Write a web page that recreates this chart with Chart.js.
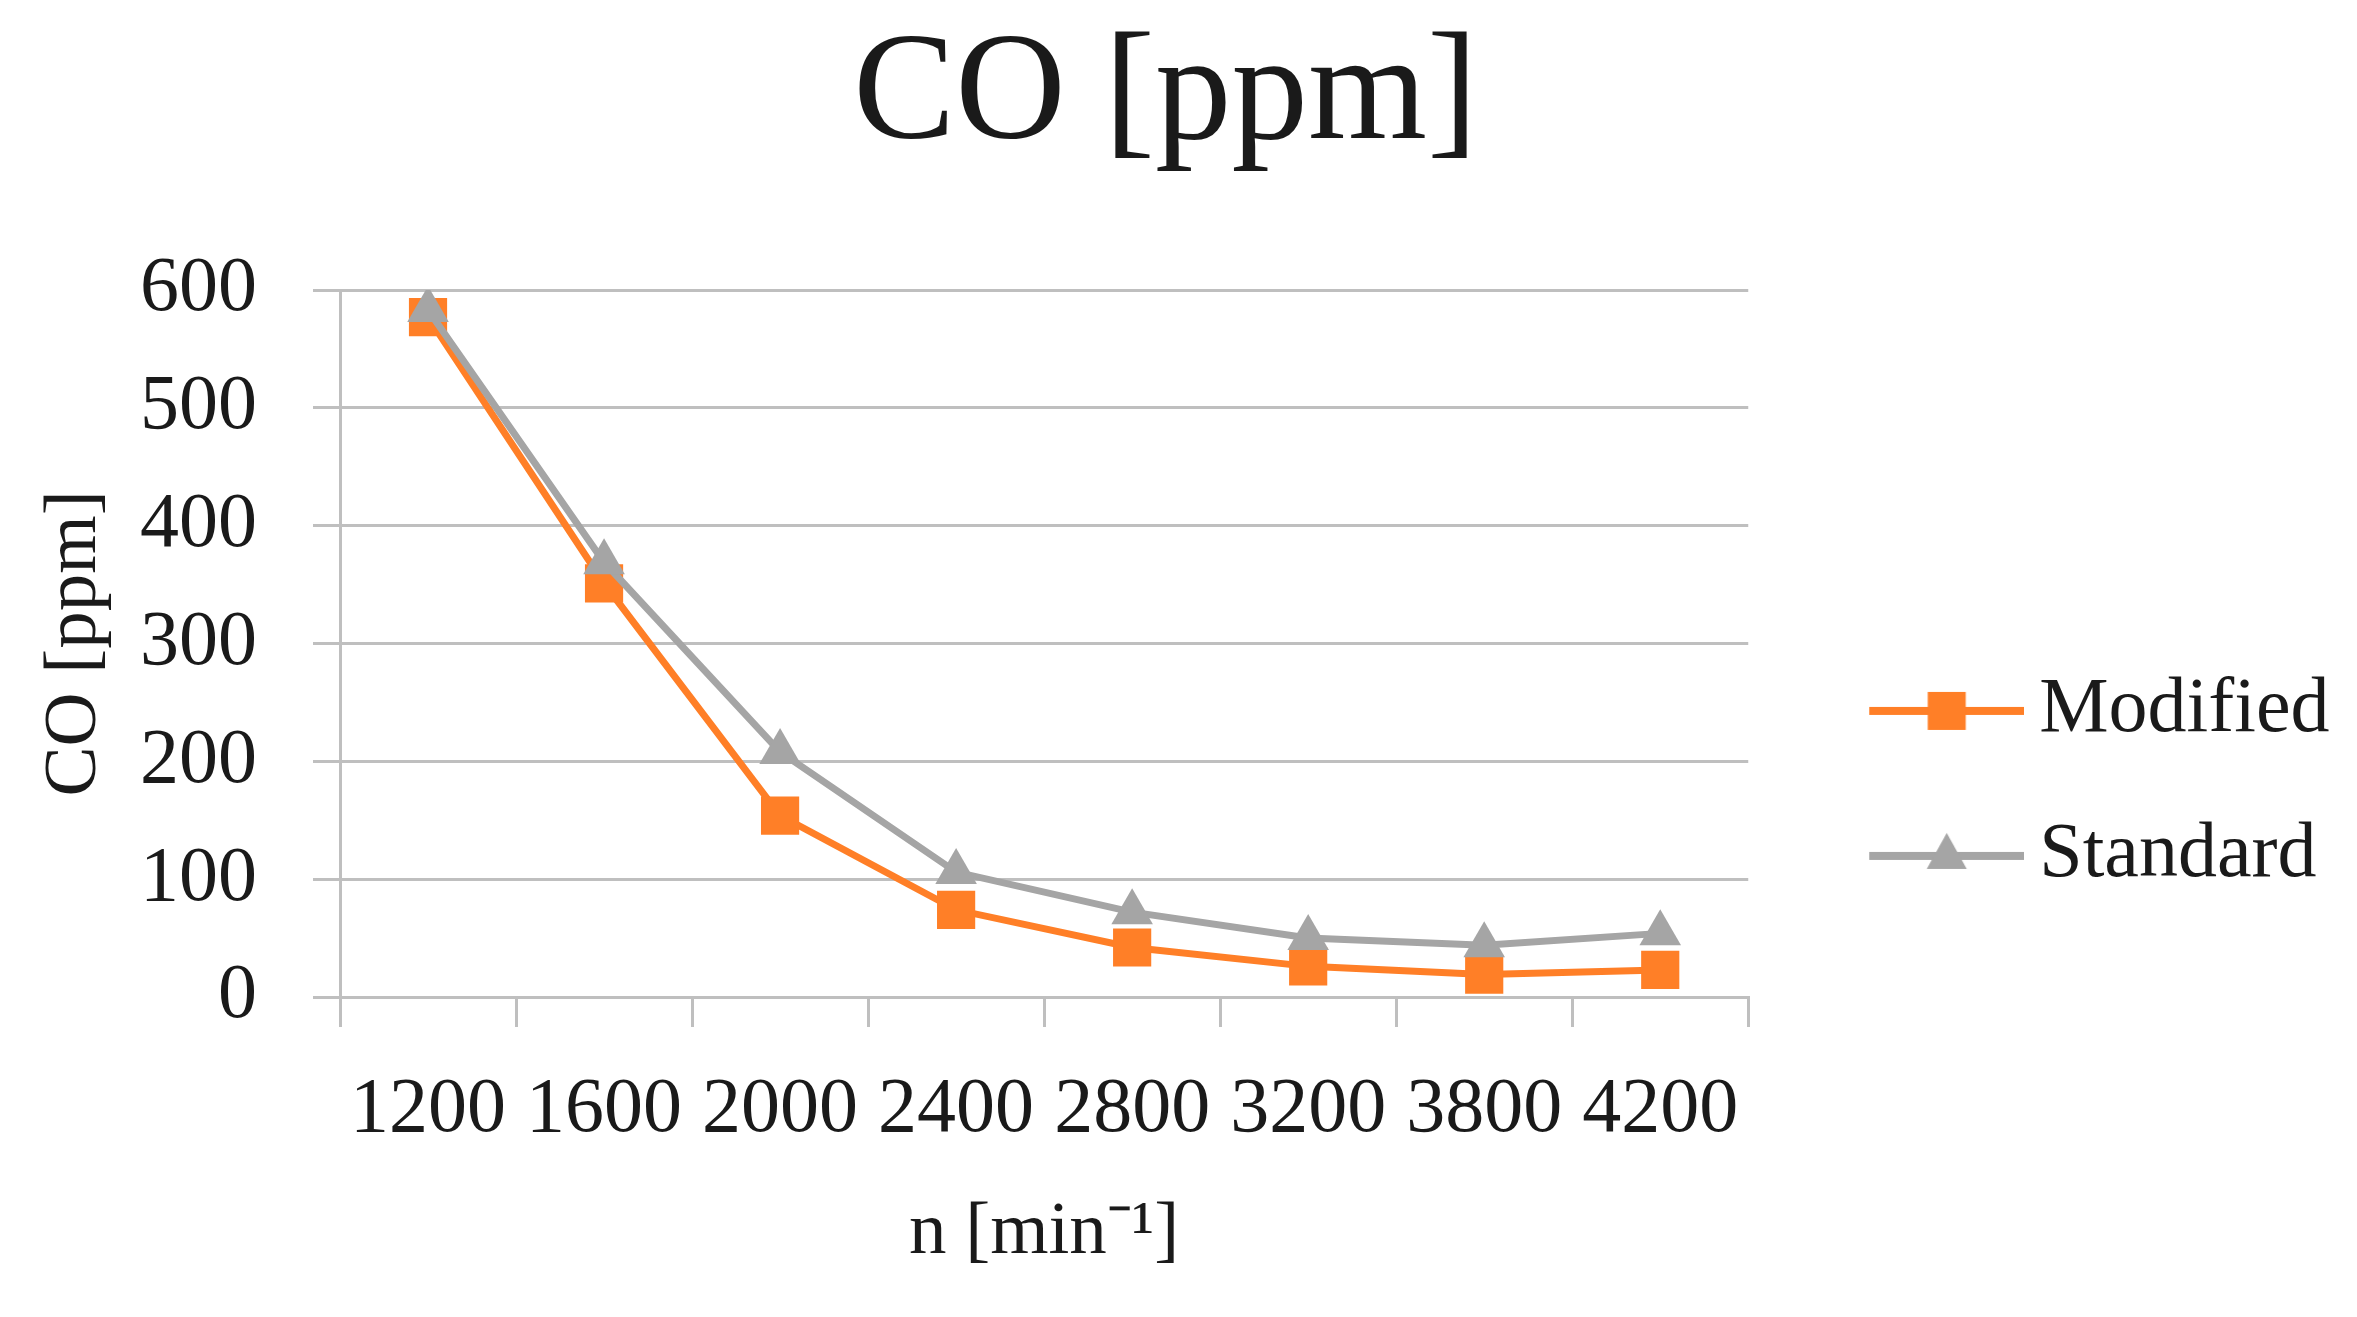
<!DOCTYPE html>
<html><head><meta charset="utf-8">
<script src="https://cdn.jsdelivr.net/npm/chart.js@4"></script>
<style>html,body{margin:0;padding:0;background:#fff}#wrap{width:2357px;height:1317px;position:relative}</style>
</head><body><div id="wrap"><canvas id="c"></canvas></div>
<script>
const categories = ['1200','1600','2000','2400','2800','3200','3800','4200'];
const modifiedValues = [577, 351, 154, 74, 42, 26, 19, 23];
const standardValues = [583, 369, 208, 106, 72, 50, 44, 54];
const seriesNames = ['Modified', 'Standard'];
const yMin = 0, yMax = 600, yStep = 100;
const chartTitle = 'CO [ppm]';
const xTitle = 'n [min\u207B\u00B9]';
const yTitle = 'CO [ppm]';

const ORANGE = '#ff7f27', GRAY = '#a5a5a5', GRID = '#bfbfbf', TEXT = '#1a1a1a';
const FONT = "'Liberation Serif', 'Times New Roman', serif";

// legend symbol: a short line with the series marker, drawn into a small canvas
function legendIcon(color, style) {
  const c = document.createElement('canvas');
  c.width = 290; c.height = 50;
  const g = c.getContext('2d');
  const cy = 25, cx = 212.5;
  g.strokeStyle = color; g.lineWidth = 8;
  g.beginPath(); g.moveTo(135, cy); g.lineTo(290, cy); g.stroke();
  g.fillStyle = color;
  if (style === 'rect') {
    g.fillRect(cx - 19, cy - 19, 38, 38);
  } else {
    g.beginPath(); g.moveTo(cx, cy - 23); g.lineTo(cx + 20, cy + 13); g.lineTo(cx - 20, cy + 13); g.closePath(); g.fill();
  }
  return c;
}
const icons = [legendIcon(ORANGE, 'rect'), legendIcon(GRAY, 'triangle')];

new Chart(document.getElementById('c'), {
  type: 'line',
  data: {
    labels: categories,
    datasets: [
      { label: seriesNames[0], data: modifiedValues, borderColor: ORANGE, backgroundColor: ORANGE,
        borderWidth: 7, pointStyle: 'rect', pointRadius: 27, pointHoverRadius: 27, pointBorderWidth: 0, tension: 0, order: 1 },
      { label: seriesNames[1], data: standardValues, borderColor: GRAY, backgroundColor: GRAY,
        borderWidth: 7, pointStyle: 'triangle', pointRadius: 24, pointHoverRadius: 24, pointBorderWidth: 0, tension: 0, order: 0 }
    ]
  },
  options: {
    responsive: true, maintainAspectRatio: false, animation: false,
    devicePixelRatio: 1,
    layout: { padding: { left: 0, right: 26, top: 0, bottom: 0 } },
    plugins: {
      tooltip: { enabled: false },
      title: { display: true, text: chartTitle, color: TEXT,
        font: { family: FONT, size: 153, weight: 'normal', lineHeight: 1 },
        padding: { top: 21, bottom: 116 } },
      legend: {
        position: 'right', align: 'center',
        title: { display: true, text: ' ', padding: 121, font: { size: 54, family: FONT } },
        labels: {
          usePointStyle: true, pointStyleWidth: 242, boxHeight: 50, padding: 10, color: TEXT,
          font: { family: FONT, size: 78, lineHeight: 135 / 78 },
          generateLabels: (chart) => seriesNames.map((n, i) => ({
            text: [n], pointStyle: icons[i], fillStyle: 'transparent', strokeStyle: 'transparent',
            lineWidth: 0, hidden: false, datasetIndex: i, fontColor: TEXT
          }))
        }
      }
    },
    scales: {
      x: {
        offset: true,
        grid: { display: true, drawOnChartArea: false, drawTicks: true, tickLength: 30, offset: true, color: GRID, lineWidth: 3 },
        border: { display: true, color: GRID, width: 3 },
        ticks: { color: TEXT, padding: 45, maxRotation: 0, autoSkip: false, font: { family: FONT, size: 78, lineHeight: 1 } },
        title: { display: true, text: xTitle, color: TEXT, font: { family: FONT, size: 75, lineHeight: 1 }, padding: { top: 1, bottom: 46 } }
      },
      y: {
        min: yMin, max: yMax,
        grid: { color: GRID, lineWidth: 3, tickLength: 27, drawTicks: true },
        border: { display: true, color: GRID, width: 3 },
        ticks: { stepSize: yStep, color: TEXT, padding: 56, font: { family: FONT, size: 78, lineHeight: 1 } },
        title: { display: true, text: yTitle, color: TEXT, font: { family: FONT, size: 75, lineHeight: 1 }, padding: { top: 38, bottom: -29 } }
      }
    }
  }
});
</script>
</body></html>
